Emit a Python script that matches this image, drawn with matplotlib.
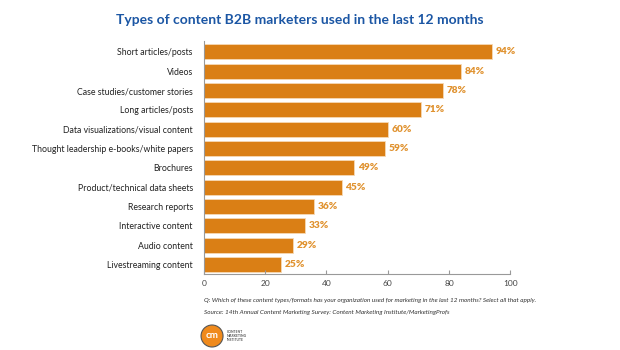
import matplotlib
matplotlib.use('Agg')
import matplotlib.pyplot as plt
from matplotlib.patches import Ellipse

plt.rcParams['font.family'] = ['Lato', 'DejaVu Sans']

categories = ['Short articles/posts', 'Videos', 'Case studies/customer stories',
              'Long articles/posts', 'Data visualizations/visual content',
              'Thought leadership e-books/white papers', 'Brochures',
              'Product/technical data sheets', 'Research reports',
              'Interactive content', 'Audio content', 'Livestreaming content']
values = [94, 84, 78, 71, 60, 59, 49, 45, 36, 33, 29, 25]
xticks = [0, 20, 40, 60, 80, 100]

bar_color = '#DA7F15'
label_color = '#E0922F'
title_color = '#1B56A4'

fig = plt.figure(figsize=(6.2, 3.5), dpi=100)
ax = fig.add_axes([0.329, 0.217, 0.494, 0.665])

y = list(range(len(categories)))
ax.barh(y, values, height=0.78, color=bar_color, edgecolor='#F6D9B5', linewidth=0.6)
for yi, v in zip(y, values):
    ax.text(v + 1.2, yi, f'{v}%', va='center', ha='left', fontsize=7.3,
            fontweight='heavy', color=label_color)

ax.set_yticks(y)
ax.set_yticklabels(categories, fontsize=6.3, color='#222222')
ax.set_ylim(len(categories) - 0.5, -0.55)
ax.set_xlim(0, 100)
ax.set_xticks(xticks)
ax.set_xticklabels([str(t) for t in xticks], fontsize=6, color='#444444')
ax.tick_params(axis='y', length=0, pad=8)
ax.tick_params(axis='x', length=3, direction='in', color='#999999', pad=4)
for s in ['top', 'right']:
    ax.spines[s].set_visible(False)
for s in ['left', 'bottom']:
    ax.spines[s].set_color('#999999')
    ax.spines[s].set_linewidth(0.8)

fig.text(0.483, 0.943, 'Types of content B2B marketers used in the last 12 months',
         ha='center', va='center', fontsize=10, fontweight='bold', color=title_color)

fig.text(0.329, 0.142, 'Q: Which of these content types/formats has your organization used for '
         'marketing in the last 12 months? Select all that apply.',
         fontsize=4.6, style='italic', color='#333333', va='center')
fig.text(0.329, 0.107, 'Source: 14th Annual Content Marketing Survey: Content Marketing '
         'Institute/MarketingProfs',
         fontsize=4.6, style='italic', color='#333333', va='center')

# logo
r = 11
fig.patches.append(Ellipse((0.342, 0.04), 2 * r / 620, 2 * r / 350,
                           transform=fig.transFigure, facecolor='#F08A1C',
                           edgecolor='#555555', linewidth=0.8))
fig.text(0.342, 0.04, 'cm', ha='center', va='center', fontsize=7,
         fontweight='bold', color='white')
fig.text(0.366, 0.04, 'CONTENT\nMARKETING\nINSTITUTE', ha='left', va='center',
         fontsize=2.4, fontweight='bold', color='#555555', linespacing=1.1)

fig.savefig('out.png', dpi=100, facecolor='white')
